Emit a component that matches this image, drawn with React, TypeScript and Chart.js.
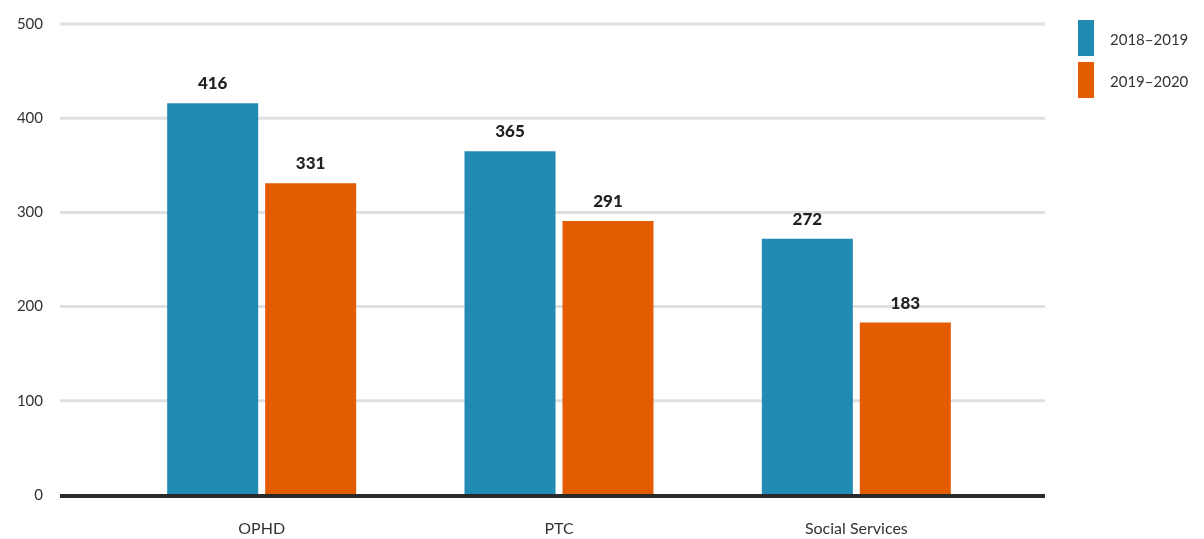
import React, { useEffect, useRef } from "react";
import { Chart, registerables } from "chart.js";

Chart.register(...registerables);

const categories = ["OPHD", "PTC", "Social Services"];
const seriesNames = ["2018–2019", "2019–2020"];
const values2018 = [416, 365, 272];
const values2019 = [331, 291, 183];
const yTicks = [0, 100, 200, 300, 400, 500];
const colors = ["#218bb3", "#e35c00"];

const decorPlugin = {
  id: "decor",
  beforeDatasetsDraw(chart: any) {
    const { ctx, chartArea, scales } = chart;
    const y = scales.y;
    const left = chartArea.left - 53;
    const right = chartArea.right + 40;
    ctx.save();
    ctx.strokeStyle = "#e0e0e0";
    ctx.lineWidth = 3;
    yTicks.forEach((t) => {
      if (t === 0) return;
      const py = y.getPixelForValue(t);
      ctx.beginPath();
      ctx.moveTo(left, py);
      ctx.lineTo(right, py);
      ctx.stroke();
    });
    ctx.restore();
  },
  afterDatasetsDraw(chart: any) {
    const { ctx, chartArea, scales } = chart;
    const y = scales.y;
    const left = chartArea.left - 53;
    const right = chartArea.right + 40;
    ctx.save();
    ctx.strokeStyle = "#2a2a2a";
    ctx.lineWidth = 4;
    const py0 = y.getPixelForValue(0) + 1;
    ctx.beginPath();
    ctx.moveTo(left, py0);
    ctx.lineTo(right, py0);
    ctx.stroke();

    // data labels
    ctx.fillStyle = "#222";
    ctx.font = "900 17px Lato";
    ctx.textAlign = "center";
    ctx.textBaseline = "bottom";
    chart.data.datasets.forEach((ds: any, di: number) => {
      const meta = chart.getDatasetMeta(di);
      meta.data.forEach((bar: any, i: number) => {
        ctx.fillText(String(ds.data[i]), bar.x, bar.y - 11);
      });
    });

    // legend
    const lx = chartArea.right + 73;
    ctx.font = "15px Lato";
    ctx.textAlign = "left";
    ctx.textBaseline = "middle";
    chart.data.datasets.forEach((ds: any, di: number) => {
      const top = 20 + di * 42;
      ctx.fillStyle = ds.backgroundColor;
      ctx.fillRect(lx, top, 16, 36);
      ctx.fillStyle = "#333";
      ctx.fillText(ds.label, lx + 32, top + 20);
    });
    ctx.restore();
  },
};

export default function App() {
  const canvasRef = useRef<HTMLCanvasElement>(null);

  useEffect(() => {
    document.body.style.margin = "0";
    const chart = new Chart(canvasRef.current!, {
      type: "bar",
      data: {
        labels: categories,
        datasets: [
          {
            label: seriesNames[0],
            data: values2018,
            backgroundColor: colors[0],
            categoryPercentage: 0.659,
            barPercentage: 0.929,
          },
          {
            label: seriesNames[1],
            data: values2019,
            backgroundColor: colors[1],
            categoryPercentage: 0.659,
            barPercentage: 0.929,
          },
        ],
      },
      options: {
        animation: false,
        responsive: false,
        maintainAspectRatio: false,
        layout: { padding: { top: 24, right: 199, left: 0, bottom: 0 } },
        plugins: {
          legend: { display: false },
          tooltip: { enabled: false },
        },
        scales: {
          x: {
            grid: { display: false, drawTicks: false },
            border: { display: false },
            ticks: {
              padding: 24,
              color: "#333",
              font: { family: "Lato", size: 16 },
            },
            afterFit(scale: any) {
              scale.height = 44;
            },
          },
          y: {
            min: 0,
            max: 500,
            grid: { display: false, drawTicks: true, tickLength: 70 },
            border: { display: false },
            afterBuildTicks(scale: any) {
              scale.ticks = yTicks.map((v) => ({ value: v }));
            },
            ticks: {
              padding: 0,
              color: "#333",
              font: { family: "Lato", size: 15 },
            },
            afterFit(scale: any) {
              scale.width = 113;
              scale.paddingTop = 0;
              scale.paddingBottom = 0;
            },
          },
        },
      },
      plugins: [decorPlugin],
    });
    return () => chart.destroy();
  }, []);

  return (
    <div style={{ width: 1204, height: 539 }}>
      <canvas ref={canvasRef} width={1204} height={539} />
    </div>
  );
}
